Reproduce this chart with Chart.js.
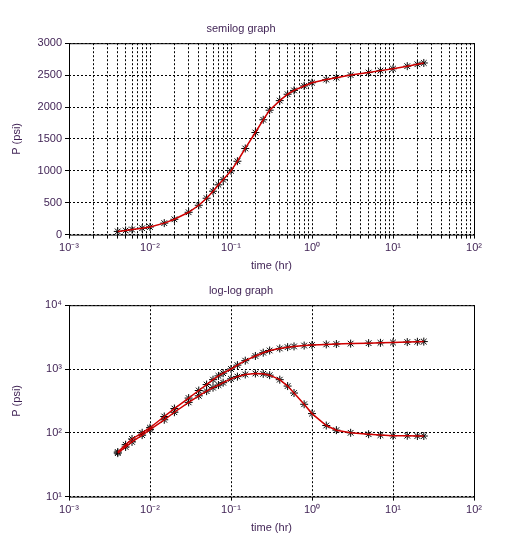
<!DOCTYPE html>
<html>
<head>
<meta charset="utf-8">
<script src="https://cdn.jsdelivr.net/npm/chart.js@4"></script>
<style>
body { margin: 0; background: #fff; }
.box { position: absolute; left: 0; width: 530px; height: 279px; }
</style>
</head>
<body>
<div class="box" style="top:2px"><canvas id="semilog"></canvas></div>
<div class="box" style="top:264px"><canvas id="loglog"></canvas></div>
<script>
// time (hr)
const time = [0.004, 0.005, 0.006, 0.008, 0.01, 0.015, 0.02, 0.03, 0.04, 0.05, 0.06, 0.07, 0.08,
    0.1, 0.12, 0.15, 0.2, 0.25, 0.3, 0.4, 0.5, 0.6, 0.8, 1, 1.5, 2, 3, 5, 7, 10, 15, 20, 24];
const pressure = [50, 65, 80, 100, 120, 180, 240, 350, 460, 570, 680, 780, 860,
    1000, 1150, 1350, 1600, 1800, 1950, 2100, 2200, 2260, 2330, 2380, 2430, 2460, 2500, 2540, 2570, 2600, 2640, 2670, 2690];
const derivative = [48, 60, 72, 92, 112, 160, 210, 300, 380, 450, 510, 560, 610,
    700, 760, 820, 850, 840, 800, 680, 540, 420, 280, 200, 130, 110, 100, 95, 92, 90, 90, 89, 89];
const xDecades = [-3, -2, -1, 0, 1, 2];
const yDecades = [1, 2, 3, 4];
const yLinearTicks = [0, 500, 1000, 1500, 2000, 2500, 3000];

const textColor = '#3d1f52';
const font = { family: 'Liberation Sans, Arial', size: 11 };
const sup = { '-': '⁻', '0': '⁰', '1': '¹', '2': '²', '3': '³', '4': '⁴' };
const powLabel = e => '10' + String(e).split('').map(c => sup[c]).join('');

const frame = {
    id: 'frame',
    afterDraw(chart) {
        const a = chart.chartArea, c = chart.ctx;
        c.save();
        c.strokeStyle = '#000';
        c.lineWidth = 1;
        c.strokeRect(a.left + 0.5, a.top + 0.5, a.right - a.left, a.bottom - a.top);
        c.restore();
    }
};

function series(values) {
    const pts = time.map((t, i) => ({ x: t, y: values[i] }));
    return [
        { data: pts, showLine: true, borderColor: '#d00000', borderWidth: 1.5, pointRadius: 0, order: 0 },
        { data: pts, showLine: false, pointStyle: 'star', pointRadius: 4, borderColor: '#000', borderWidth: 1, order: 1 }
    ];
}

function xScale(withMinor) {
    return {
        type: 'logarithmic', min: 0.001, max: 100,
        afterBuildTicks(s) {
            const ticks = [];
            xDecades.forEach(e => {
                ticks.push({ value: Math.pow(10, e), major: true });
                if (withMinor && e < 2) for (let k = 2; k <= 9; k++) ticks.push({ value: k * Math.pow(10, e) });
            });
            s.ticks = ticks;
        },
        ticks: {
            autoSkip: false, maxRotation: 0, color: textColor, font,
            callback(v) {
                const e = Math.round(Math.log10(v));
                return Math.abs(v - Math.pow(10, e)) < 1e-9 * v ? powLabel(e) : '';
            }
        },
        grid: { color: '#000', tickLength: 4, drawTicks: true },
        border: { display: false, dash: [2, 2] },
        title: { display: true, text: 'time (hr)', color: textColor, font, padding: 2 }
    };
}

function options(titleText, yScale, minor) {
    return {
        responsive: true, maintainAspectRatio: false, animation: false,
        layout: { padding: { left: 8, right: 56, top: 0, bottom: 6 } },
        plugins: {
            legend: { display: false }, tooltip: { enabled: false },
            title: { display: true, text: titleText, color: textColor,
                font: { ...font, weight: 'normal' }, padding: { top: 20, bottom: 8 } }
        },
        scales: { x: xScale(minor), y: yScale }
    };
}

const yGrid = { color: '#000', tickLength: 4 };
const yTitle = { display: true, text: 'P (psi)', color: textColor, font, padding: 2 };
const fitY = s => { s.width = 61; };

new Chart(document.getElementById('semilog'), {
    type: 'scatter',
    data: { datasets: series(pressure) },
    options: options('semilog graph', {
        type: 'linear', min: 0, max: 3000,
        afterBuildTicks(s) { s.ticks = yLinearTicks.map(v => ({ value: v })); },
        afterFit: fitY,
        ticks: { color: textColor, font, callback: v => String(v) },
        grid: yGrid, border: { display: false, dash: [2, 2] }, title: yTitle
    }, true),
    plugins: [frame]
});

new Chart(document.getElementById('loglog'), {
    type: 'scatter',
    data: { datasets: [...series(pressure), ...series(derivative)] },
    options: options('log-log graph', {
        type: 'logarithmic', min: 10, max: 10000,
        afterBuildTicks(s) { s.ticks = yDecades.map(e => ({ value: Math.pow(10, e) })); },
        afterFit: fitY,
        ticks: { color: textColor, font, callback: v => powLabel(Math.round(Math.log10(v))) },
        grid: yGrid, border: { display: false, dash: [2, 2] }, title: yTitle
    }, false),
    plugins: [frame]
});
</script>
</body>
</html>
